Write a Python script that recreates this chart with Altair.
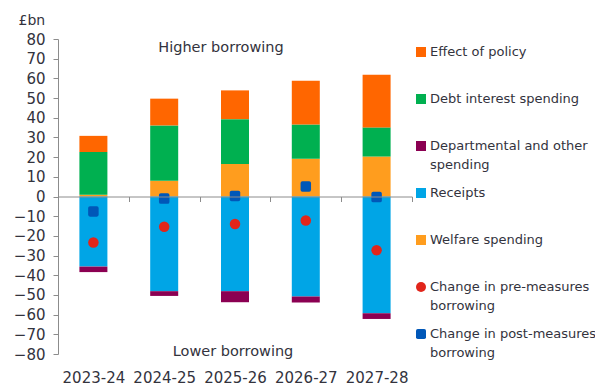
import altair as alt
import pandas as pd

years = ["2023-24", "2024-25", "2025-26", "2026-27", "2027-28"]
welfare = [0.9, 8.0, 16.5, 19.2, 20.3]
debt = [21.7, 28.1, 22.8, 17.4, 14.8]
policy = [8.2, 13.6, 14.6, 22.2, 26.8]
receipts = [-35.6, -48.1, -48.1, -50.8, -59.3]
dept = [-2.8, -2.4, -5.6, -3.1, -2.9]
pre_measures = [-23.4, -15.4, -14.0, -12.2, -27.3]
post_measures = [-7.6, -1.0, 0.3, 5.1, -0.3]

series_names = [
    "Effect of policy",
    "Debt interest spending",
    "Departmental and other spending",
    "Receipts",
    "Welfare spending",
    "Change in pre-measures borrowing",
    "Change in post-measures borrowing",
]
legend_labels = [
    "Effect of policy",
    "Debt interest spending",
    "Departmental and other\nspending",
    "Receipts",
    "Welfare spending",
    "Change in pre-measures\nborrowing",
    "Change in post-measures\nborrowing",
]
y_ticks = [-80, -70, -60, -50, -40, -30, -20, -10, 0, 10, 20, 30, 40, 50, 60, 70, 80]
colors = ["#FF6600", "#00B050", "#8B0052", "#00A5E6", "#FF9D1E", "#E1251B", "#0057B8"]
rounded_square = ("M -0.65 -1 L 0.65 -1 Q 1 -1 1 -0.65 L 1 0.65 Q 1 1 0.65 1 "
                  "L -0.65 1 Q -1 1 -1 0.65 L -1 -0.65 Q -1 -1 -0.65 -1 Z")
shapes = ["square", "square", "square", "square", "square", "circle", rounded_square]

TEXT = "#33333d"
AXIS = "#8c8c8c"
FONT = "DejaVu Sans"

# bar data (long form)
bar_series = [
    ("Welfare spending", welfare, 1),
    ("Debt interest spending", debt, 2),
    ("Effect of policy", policy, 3),
    ("Receipts", receipts, 1),
    ("Departmental and other spending", dept, 2),
]
rows = []
for name, vals, o in bar_series:
    for yr, v in zip(years, vals):
        rows.append({"year": yr, "series": name, "value": v, "order": o})
bars_df = pd.DataFrame(rows)

prow = []
for name, vals in [("Change in pre-measures borrowing", pre_measures),
                   ("Change in post-measures borrowing", post_measures)]:
    for yr, v in zip(years, vals):
        prow.append({"year": yr, "series": name, "value": v})
points_df = pd.DataFrame(prow)

legend_df = pd.DataFrame({"series": series_names, "label": legend_labels})

color_scale = alt.Scale(domain=series_names, range=colors)
shape_scale = alt.Scale(domain=series_names, range=shapes)
y_scale = alt.Scale(domain=[-80, 80], nice=False, zero=False)

x_enc = alt.X(
    "year:N", sort=years, title=None,
    scale=alt.Scale(paddingInner=0, paddingOuter=0),
    axis=alt.Axis(orient="bottom", offset=-157.5, tickBand="extent", tickSize=5,
                  labelPadding=169, labelAngle=0, labelFontSize=15, labelColor=TEXT,
                  labelFont=FONT, domainColor=AXIS, tickColor=AXIS, zindex=1),
)
y_axis = alt.Axis(values=y_ticks, grid=False, tickSize=5,
                  labelOverlap=False, labelFlush=False,
                  labelPadding=8, labelFontSize=15, labelColor=TEXT, labelFont=FONT,
                  domainColor=AXIS, tickColor=AXIS,
                  titleAngle=0, titleAlign="left", titleBaseline="middle",
                  titleX=-40, titleY=-19, titleFontSize=14, titleFontWeight="normal",
                  titleColor=TEXT, titleFont=FONT)

bars = alt.Chart(bars_df).mark_bar(size=28).encode(
    x=x_enc,
    y=alt.Y("value:Q", stack="zero", scale=y_scale, title="£bn", axis=y_axis),
    color=alt.Color("series:N", scale=color_scale, legend=None),
    order=alt.Order("order:Q"),
)

points = alt.Chart(points_df).mark_point(filled=True, opacity=1, size=110).encode(
    x=x_enc,
    y=alt.Y("value:Q", scale=y_scale, title="£bn", axis=y_axis),
    color=alt.Color("series:N", scale=color_scale, legend=None),
    shape=alt.Shape("series:N", scale=shape_scale, legend=None),
)

higher = alt.Chart(pd.DataFrame({"t": ["Higher borrowing"]})).mark_text(
    fontSize=14.5, color=TEXT, font=FONT, align="center", baseline="middle"
).encode(x=alt.value(163),
         y=alt.YDatum(75.5, scale=y_scale, title="£bn", axis=y_axis),
         text="t:N")

lower = alt.Chart(pd.DataFrame({"t": ["Lower borrowing"]})).mark_text(
    fontSize=14.5, color=TEXT, font=FONT, align="center", baseline="middle"
).encode(x=alt.value(175),
         y=alt.YDatum(-79, scale=y_scale, title="£bn", axis=y_axis),
         text="t:N")

main = alt.layer(bars, points, higher, lower)

leg_y = alt.Y("series:N", sort=series_names, axis=None,
              scale=alt.Scale(range=[13, 295], padding=0))
leg_sym = alt.Chart(legend_df).mark_point(filled=True, opacity=1, size=100).encode(
    x=alt.value(363),
    y=leg_y,
    color=alt.Color("series:N", scale=color_scale, legend=None),
    shape=alt.Shape("series:N", scale=shape_scale, legend=None),
)
leg_txt = alt.Chart(legend_df).mark_text(
    align="left", baseline="top", dx=9, dy=-6, lineBreak="\n", lineHeight=19,
    fontSize=13, color=TEXT, font=FONT
).encode(x=alt.value(363), y=leg_y, text="label:N")

legend = alt.layer(leg_sym, leg_txt)

chart = alt.layer(main, legend).resolve_scale(y="independent").properties(
    width=354, height=315,
    autosize=alt.AutoSizeParams(type="none"),
    padding={"left": 58, "top": 39, "right": 183, "bottom": 33},
    background="white",
).configure_view(stroke=None)

chart.save("out.html", embed_options={"renderer": "svg", "actions": False})
